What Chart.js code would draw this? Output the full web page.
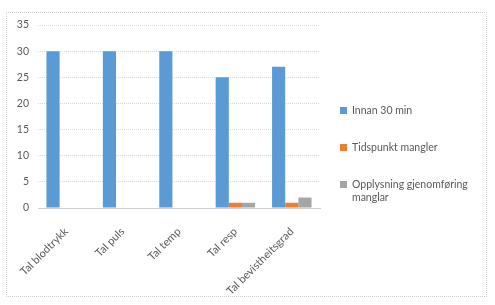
<!DOCTYPE html>
<html>
<head>
<meta charset="utf-8">
<script src="https://cdn.jsdelivr.net/npm/chart.js@4.4.0/dist/chart.umd.min.js"></script>
<style>
  body { margin: 0; background: #fff; }
  .wrap { position: relative; width: 495px; height: 305px; }
  .frame { position: absolute; left: 6px; top: 12px; width: 481px; height: 285px; border: 1px dotted #d0d0d0; box-sizing: border-box; }
  canvas { position: absolute; left: 0; top: 0; }
  .legend { position: absolute; left: 339px; top: 104px; width: 135px; font-family: Lato, "Open Sans", sans-serif; font-size: 10.5px; color: #595959; }
  .legend div { position: relative; padding-left: 13px; line-height: 13px; margin-bottom: 24px; }
  .legend span { position: absolute; left: 1px; top: 3px; width: 7px; height: 7px; }
</style>
</head>
<body>
<div class="wrap">
  <div class="frame"></div>
  <canvas id="myChart" width="495" height="305"></canvas>
  <div class="legend" id="legend"></div>
</div>
<script>
const categories = ["Tal blodtrykk", "Tal puls", "Tal temp", "Tal resp", "Tal bevistheitsgrad"];
const seriesNames = ["Innan 30 min", "Tidspunkt mangler", "Opplysning gjenomføring manglar"];
const innan30 = [30, 30, 30, 25, 27];
const tidspunkt = [0, 0, 0, 1, 1];
const opplysning = [0, 0, 0, 1, 2];
const colors = ["#5B9BD5", "#ED7D31", "#A5A5A5"];
const yTicks = [0, 5, 10, 15, 20, 25, 30, 35];

const values = [innan30, tidspunkt, opplysning];
const dataSets = seriesNames.map((name, i) => ({
  label: name,
  data: values[i],
  backgroundColor: colors[i],
  borderWidth: 0,
  categoryPercentage: 0.7,
  barPercentage: 1
}));

const chart = new Chart(document.getElementById("myChart"), {
  type: "bar",
  data: { labels: categories, datasets: dataSets },
  options: {
    responsive: false,
    animation: false,
    layout: { padding: { left: 8, right: 175, top: 25, bottom: 0 } },
    plugins: { legend: { display: false }, tooltip: { enabled: false } },
    scales: {
      x: {
        grid: { display: false },
        border: { color: "#d0d0d0" },
        ticks: {
          color: "#595959",
          font: { family: "Lato", size: 11 },
          maxRotation: 45,
          minRotation: 45,
          padding: 9
        },
        afterFit: (scale) => { scale.height = 97; }
      },
      y: {
        min: 0,
        max: 35,
        afterBuildTicks: (scale) => { scale.ticks = yTicks.map(v => ({ value: v })); },
        grid: { color: "#d9d9d9", drawTicks: false },
        border: { display: false, dash: [1, 1] },
        ticks: {
          color: "#595959",
          font: { family: "Lato", size: 10.5 },
          padding: 9
        },
        afterFit: (scale) => { scale.width = 30; }
      }
    }
  }
});

// legend built as html so the long label can wrap
const legend = document.getElementById("legend");
seriesNames.forEach((name, i) => {
  const item = document.createElement("div");
  item.innerHTML = '<span style="background:' + colors[i] + '"></span>' + name;
  legend.appendChild(item);
});
</script>
</body>
</html>
